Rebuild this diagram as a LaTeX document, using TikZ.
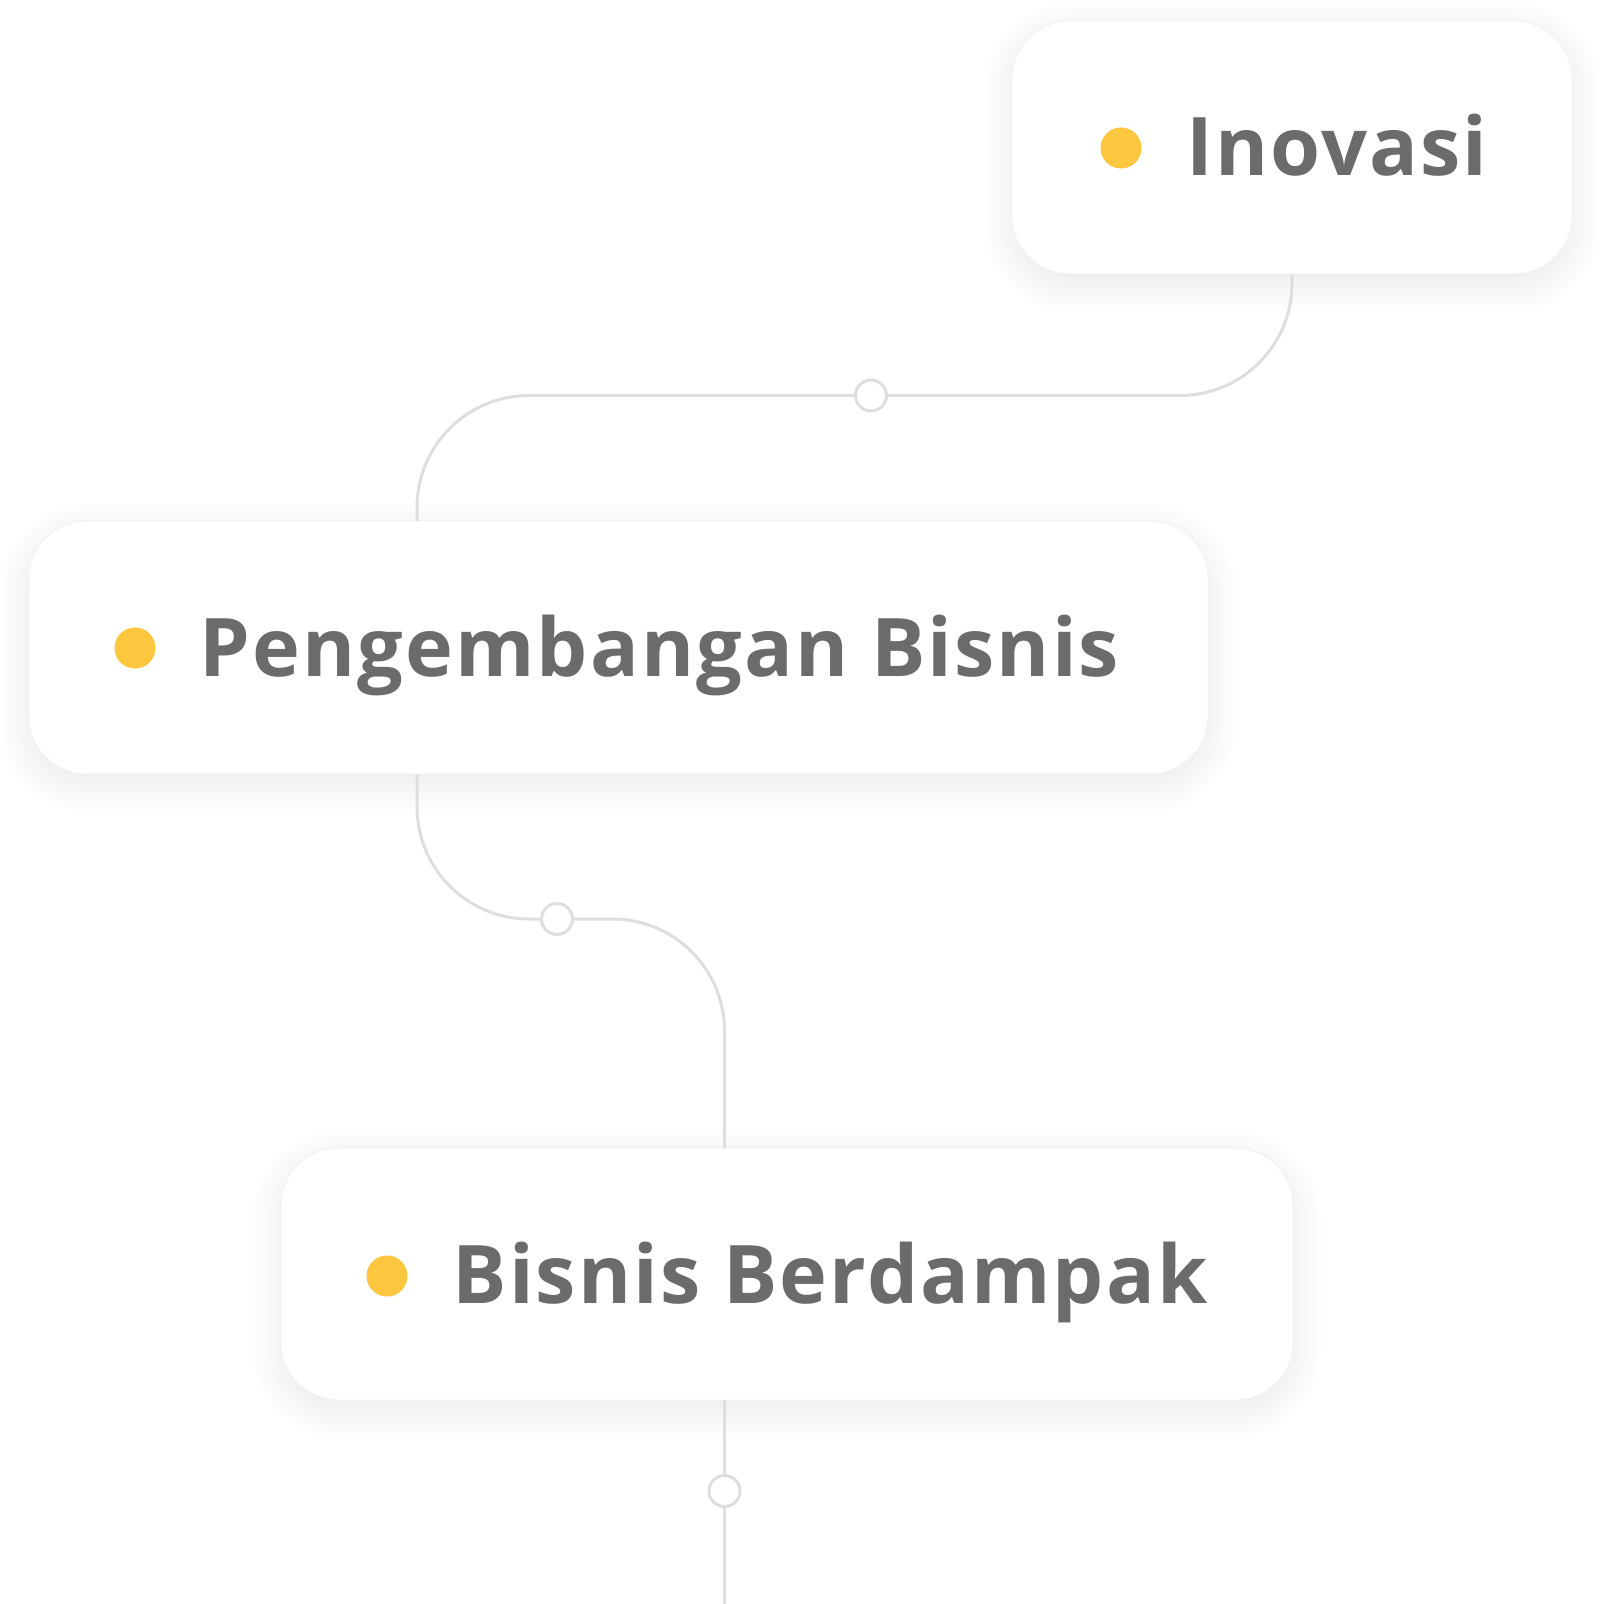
\documentclass[tikz,border=0pt]{standalone}
\usepackage{xcolor}
\usepackage{fontspec}
\setmainfont{Open Sans}
\usepackage{tikz}
\usetikzlibrary{shadows.blur}

\definecolor{inkgray}{HTML}{6B6B6B}
\definecolor{wiregray}{HTML}{DEDEDE}
\definecolor{dotyellow}{HTML}{FCC63F}

\newcommand{\stagetext}[1]{\bfseries\addfontfeatures{LetterSpace=2.6}#1}

\begin{document}
\begin{tikzpicture}[x=0.01cm,y=-0.01cm,
    box/.style={draw=white!95!black,line width=0.3pt,fill=white,rounded corners=0.58cm,inner sep=0pt,
      blur shadow={shadow xshift=0cm,shadow yshift=-0.1cm,shadow blur radius=0.3cm,shadow blur steps=20,shadow opacity=9}},
    dot/.style={circle,fill=dotyellow,inner sep=0pt,minimum size=0.41cm},
    txt/.style={anchor=base west,inner sep=0pt,text=inkgray,font=\fontsize{23}{26}\selectfont},
    knot/.style={circle,draw=wiregray,line width=0.85pt,fill=white,inner sep=0pt,minimum size=0.31cm},
    wire/.style={draw=wiregray,line width=0.85pt,rounded corners=1.12cm}]
    \useasboundingbox (0,0) rectangle (1600,1604);

    % stages
    \draw[] (1292,147.5) node[box,minimum width=5.6cm,minimum height=2.53cm] (inov) {};
    \draw[] (618.3,647.5) node[box,minimum width=11.79cm,minimum height=2.53cm] (peng) {};
    \draw[] (787,1274) node[box,minimum width=10.12cm,minimum height=2.52cm] (bis) {};

    \draw[] (1121,148) node[dot] (inovDot) {};
    \draw[] (1186,176) node[txt] (inovTxt) {\stagetext{Inovasi}};
    \draw[] (135,648) node[dot] (pengDot) {};
    \draw[] (199,676.5) node[txt] (pengTxt) {\stagetext{Pengembangan Bisnis}};
    \draw[] (387,1276) node[dot] (bisDot) {};
    \draw[] (452,1303) node[txt] (bisTxt) {\stagetext{Bisnis Berdampak}};

    % joints
    \draw[] (871,395.5) node[knot] (k1) {};
    \draw[] (557,919) node[knot] (k2) {};
    \draw[] (724.5,1491) node[knot] (k3) {};
    \coordinate (pengIn) at (417,521);
    \coordinate (pengOut) at (417,774);
    \coordinate (bisIn) at (724.5,1148);
    \coordinate (bisOut) at (724.5,1400);
    \coordinate (tail) at (724.5,1604);

    \draw[wire] (inov.south) |- (k1);
    \draw[wire] (k1) -| (pengIn);
    \draw[wire] (pengOut) |- (k2);
    \draw[wire] (k2) -| (bisIn);
    \draw[wire] (bisOut) -- (k3);
    \draw[wire] (k3) -- (tail);
\end{tikzpicture}
\end{document}
